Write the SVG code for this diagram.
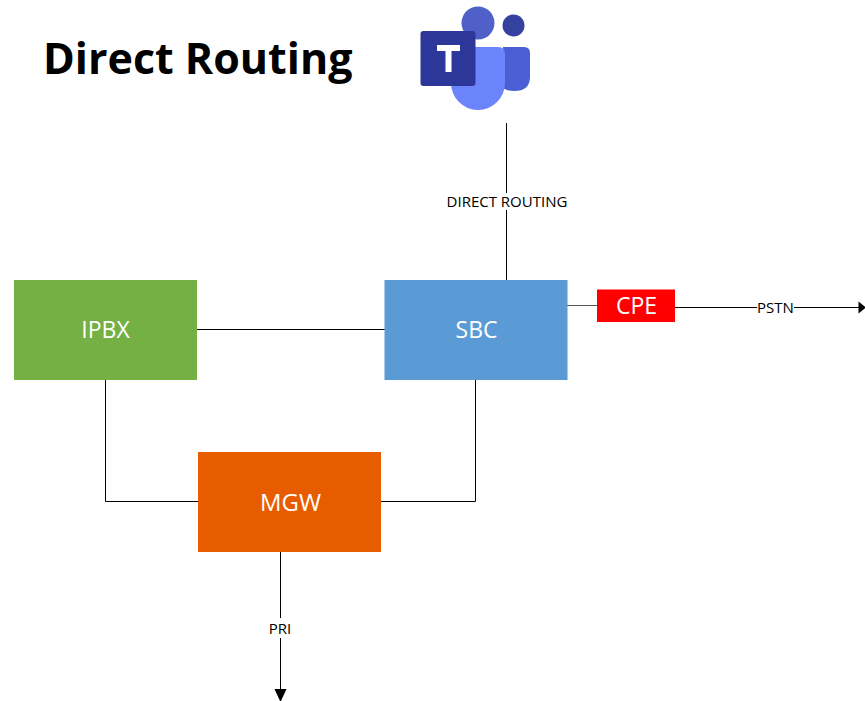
<svg xmlns="http://www.w3.org/2000/svg" width="865" height="701" viewBox="0 0 865 701">
<style>
text{font-family:"Open Sans","Noto Sans","Liberation Sans",sans-serif}
.n{fill:#fff;font-size:23px;text-anchor:middle}
.l{fill:#000;font-size:15px;text-anchor:middle}
.c{fill:none;stroke:#000;stroke-width:1}
.t{font-size:43px;font-weight:700;fill:#000}
</style>
<rect width="865" height="701" fill="#fff"/>
<text class="t" x="43" y="74">Direct Routing</text>
<g id="teams-logo">
<circle cx="478" cy="23" r="16.500" fill="#4f61c8"/>
<circle cx="513.500" cy="25.500" r="11" fill="#35419f"/>
<path d="M503 47h21q6 0 6 6v24q0 14-16 14-10 0-14-6z" fill="#4a5fd4"/>
<path d="M451 47h47q7 0 7 7v29a27 27 0 0 1-54 0z" fill="#6b83fb"/>
<rect x="420.500" y="31" width="55" height="55" rx="3" fill="#2c3799"/>
<path d="M437 45h23v6h-8.500v21h-6v-21H437z" fill="#fff"/>
</g>
<g id="connectors">
<path class="c" d="M506.500 123V280"/>
<path class="c" d="M197 329.500H385"/>
<path class="c" d="M105.500 380V501.500H198"/>
<path class="c" d="M381 501.500H475.500V380"/>
<path d="M567 305.500H597" fill="none" stroke="#555"/>
<path class="c" d="M675 307.500H860"/>
<path d="M858.500 301.500L866 307.500L858.500 313.500z" fill="#000"/>
<path class="c" d="M280.500 552V690"/>
<path d="M274.500 689h12l-6 13z" fill="#000"/>
<rect x="446" y="193" width="121" height="17" fill="#fff"/>
<text class="l" x="507" y="206.500">DIRECT ROUTING</text>
<rect x="757" y="299" width="37" height="17" fill="#fff"/>
<text class="l" x="775.500" y="313">PSTN</text>
<rect x="268" y="618" width="25" height="20" fill="#fff"/>
<text class="l" x="280" y="633.500">PRI</text>
</g>
<g id="ipbx"><rect x="14" y="280" width="183" height="100" fill="#74b043"/><text class="n" x="105.500" y="338">IPBX</text></g>
<g id="sbc"><rect x="384.500" y="280" width="183" height="100" fill="#5b9bd5"/><text class="n" x="476.500" y="338">SBC</text></g>
<g id="mgw"><rect x="198" y="452" width="183" height="100" fill="#e85c00"/><text class="n" x="290.500" y="511" textLength="61" lengthAdjust="spacingAndGlyphs">MGW</text></g>
<g id="cpe"><rect x="597" y="289.500" width="78" height="32.500" fill="#ff0000"/><text class="n" x="636.500" y="314">CPE</text></g>
</svg>
